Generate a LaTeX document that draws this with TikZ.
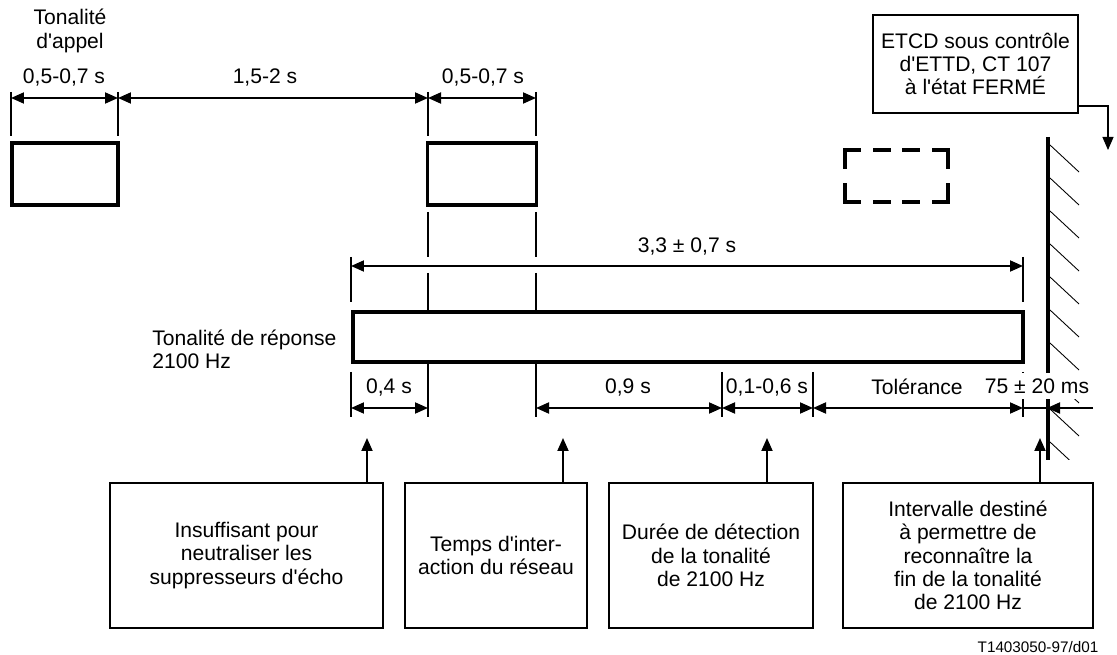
\documentclass[tikz,border=0pt]{standalone}
\usepackage{fontspec}
\setmainfont{Liberation Sans}[Ligatures=TeXOff]
\usetikzlibrary{positioning,arrows.meta}
\tikzset{
  dimline/.style={{Triangle[length=2.6mm,width=2.2mm]}-{Triangle[length=2.6mm,width=2.2mm]}, line width=1.1pt},
  extline/.style={line width=1.1pt},
  uparrow/.style={-{Triangle[length=2.6mm,width=2.2mm]}, line width=1.1pt},
  thinarrow/.style={-{Triangle[length=2.6mm,width=2.2mm]}, line width=0.6pt},
  tonebox/.style={draw, line width=1.8pt, minimum height=1.24cm, inner sep=0pt},
  dashside/.style={line width=1.8pt, line cap=rect},
  notebox/.style={draw, line width=0.8pt, minimum height=2.9cm, align=center, inner sep=0pt},
  dimlabel/.style={inner sep=1pt},
  hatch/.style={line width=0.5pt},
  wall/.style={line width=2.3pt}
}

\begin{document}
\begin{tikzpicture}[x=0.02cm, y=-0.02cm, every node/.style={font=\fontsize{12}{13.2}\selectfont}]
  \useasboundingbox (0,0) rectangle (1117,655);

  % call tone
  \node[align=center] (calltone) at (70,31) {Tonalité\\d'appel};
  \node[tonebox, minimum width=2.12cm] (call1) at (65,174) {};
  \node[tonebox, minimum width=2.18cm] (call2) at (482,174) {};
  \coordinate (t1) at (11,98);
  \coordinate (t2) at (118,98);
  \coordinate (t3) at (428,98);
  \coordinate (t4) at (536,98);
  \foreach \p in {t1,t2,t3,t4} \draw[extline] (\p) ++(0,-6) -- ++(0,44);
  \draw[dimline] (t1) -- (t2);
  \draw[dimline] (t2) -- (t3);
  \draw[dimline] (t3) -- (t4);
  \node[dimlabel] (lcall1) at (64,77) {0,5-0,7 s};
  \node[dimlabel] (lpause) at (265,77) {1,5-2 s};
  \node[dimlabel] (lcall2) at (483,77) {0,5-0,7 s};

  % dashed call tone
  \draw[dashside, dash pattern=on 2.94mm off 2.94mm] (845,150) -- (948,150);
  \draw[dashside, dash pattern=on 2.94mm off 2.94mm] (845,202) -- (948,202);
  \draw[dashside, dash pattern=on 3.4mm off 3.6mm] (845,150) -- (845,202);
  \draw[dashside, dash pattern=on 3.4mm off 3.6mm] (948,150) -- (948,202);

  % answer tone
  \node[tonebox, minimum width=13.4cm, minimum height=1.0cm] (answer) at (688,337) {};
  \node[anchor=west, align=left, inner sep=0pt] (answerlbl) at (152,349) {Tonalité de réponse\\2100 Hz};
  \draw[extline] (428,212) -- (428,257) (428,273) -- (answer.north -| 428,0);
  \draw[extline] (536,212) -- (536,257) (536,273) -- (answer.north -| 536,0);

  \coordinate (a1) at (351,266);
  \coordinate (a2) at (1023,266);
  \draw[extline] (351,257) -- (351,302) (1023,257) -- (1023,302);
  \draw[dimline] (a1) -- (a2);
  \node[dimlabel] (ltotal) at (687,246) {3,3 ± 0,7 s};

  % lower time marks
  \coordinate (b1) at (351,408);
  \coordinate (b2) at (428,408);
  \coordinate (b3) at (536,408);
  \coordinate (b4) at (722,408);
  \coordinate (b5) at (813,408);
  \coordinate (b6) at (1023,408);
  \coordinate (b7) at (1047,408);
  \coordinate (b8) at (1093,408);
  \draw[extline] (428,362) -- (428,417) (536,362) -- (536,417);
  \foreach \p in {b1,b4,b5,b6} \draw[extline] (\p) ++(0,-36) -- ++(0,45);
  \draw[dimline] (b1) -- (b2);
  \draw[dimline] (b3) -- (b4);
  \draw[dimline] (b4) -- (b5);
  \draw[dimline] (b5) -- (b6);
  \draw[extline] (b6) -- (b7);
  \draw[uparrow] (b8) -- (b7);
  \node[dimlabel] (lecho) at (389,387) {0,4 s};
  \node[dimlabel] (ldetect) at (628,387) {0,9 s};
  \node[dimlabel] (lvar) at (767,387) {0,1-0,6 s};
  \node[dimlabel] (ltol) at (917,387) {Tolérance};

  % wall
  \coordinate (wtop) at (1048,137);
  \coordinate (wbot) at (1048,460);
  \begin{scope}
    \clip (1050,137) rectangle (1100,460);
    \foreach \h in {145,178,...,442} \draw[hatch] (1050,\h) -- ++(29,27);
  \end{scope}
  \draw[wall] (wtop) -- (wbot);
  \node[fill=white, inner sep=3pt] (lguard) at (1037,386) {75 ± 20 ms};

  % DCE state
  \node[draw, line width=0.6pt, align=center, minimum width=4.1cm, minimum height=1.96cm, inner sep=0pt] (etcd) at (975.5,64) {ETCD sous contrôle\\d'ETTD, CT 107\\à l'état FERMÉ};
  \coordinate (dcebend) at (1108,106);
  \coordinate (dce) at (1108,150);
  \draw[thinarrow] (etcd.east |- dcebend) -- (dcebend) -- (dce);

  % notes
  \node[notebox, minimum width=5.46cm] (note1) at (246.5,555.5) {Insuffisant pour\\neutraliser les\\suppresseurs d'écho};
  \node[notebox, minimum width=3.64cm] (note2) at (496,555.5) {Temps d'inter-\\action du réseau};
  \node[notebox, minimum width=4.08cm] (note3) at (711,555.5) {Durée de détection\\de la tonalité\\de 2100 Hz};
  \node[notebox, minimum width=5.0cm] (note4) at (968,555.5) {Intervalle destiné\\à permettre de\\reconnaître la\\fin de la tonalité\\de 2100 Hz};
  \coordinate (p1) at (367,438);
  \coordinate (p2) at (563,438);
  \coordinate (p3) at (767,438);
  \coordinate (p4) at (1040,438);
  \draw[uparrow] (note1.north -| p1) -- (p1);
  \draw[uparrow] (note2.north -| p2) -- (p2);
  \draw[uparrow] (note3.north -| p3) -- (p3);
  \draw[uparrow] (note4.north -| p4) -- (p4);

  \node[font=\fontsize{8.7}{10}\selectfont] (figref) at (1038,647) {T1403050-97/d01};
\end{tikzpicture}
\end{document}
